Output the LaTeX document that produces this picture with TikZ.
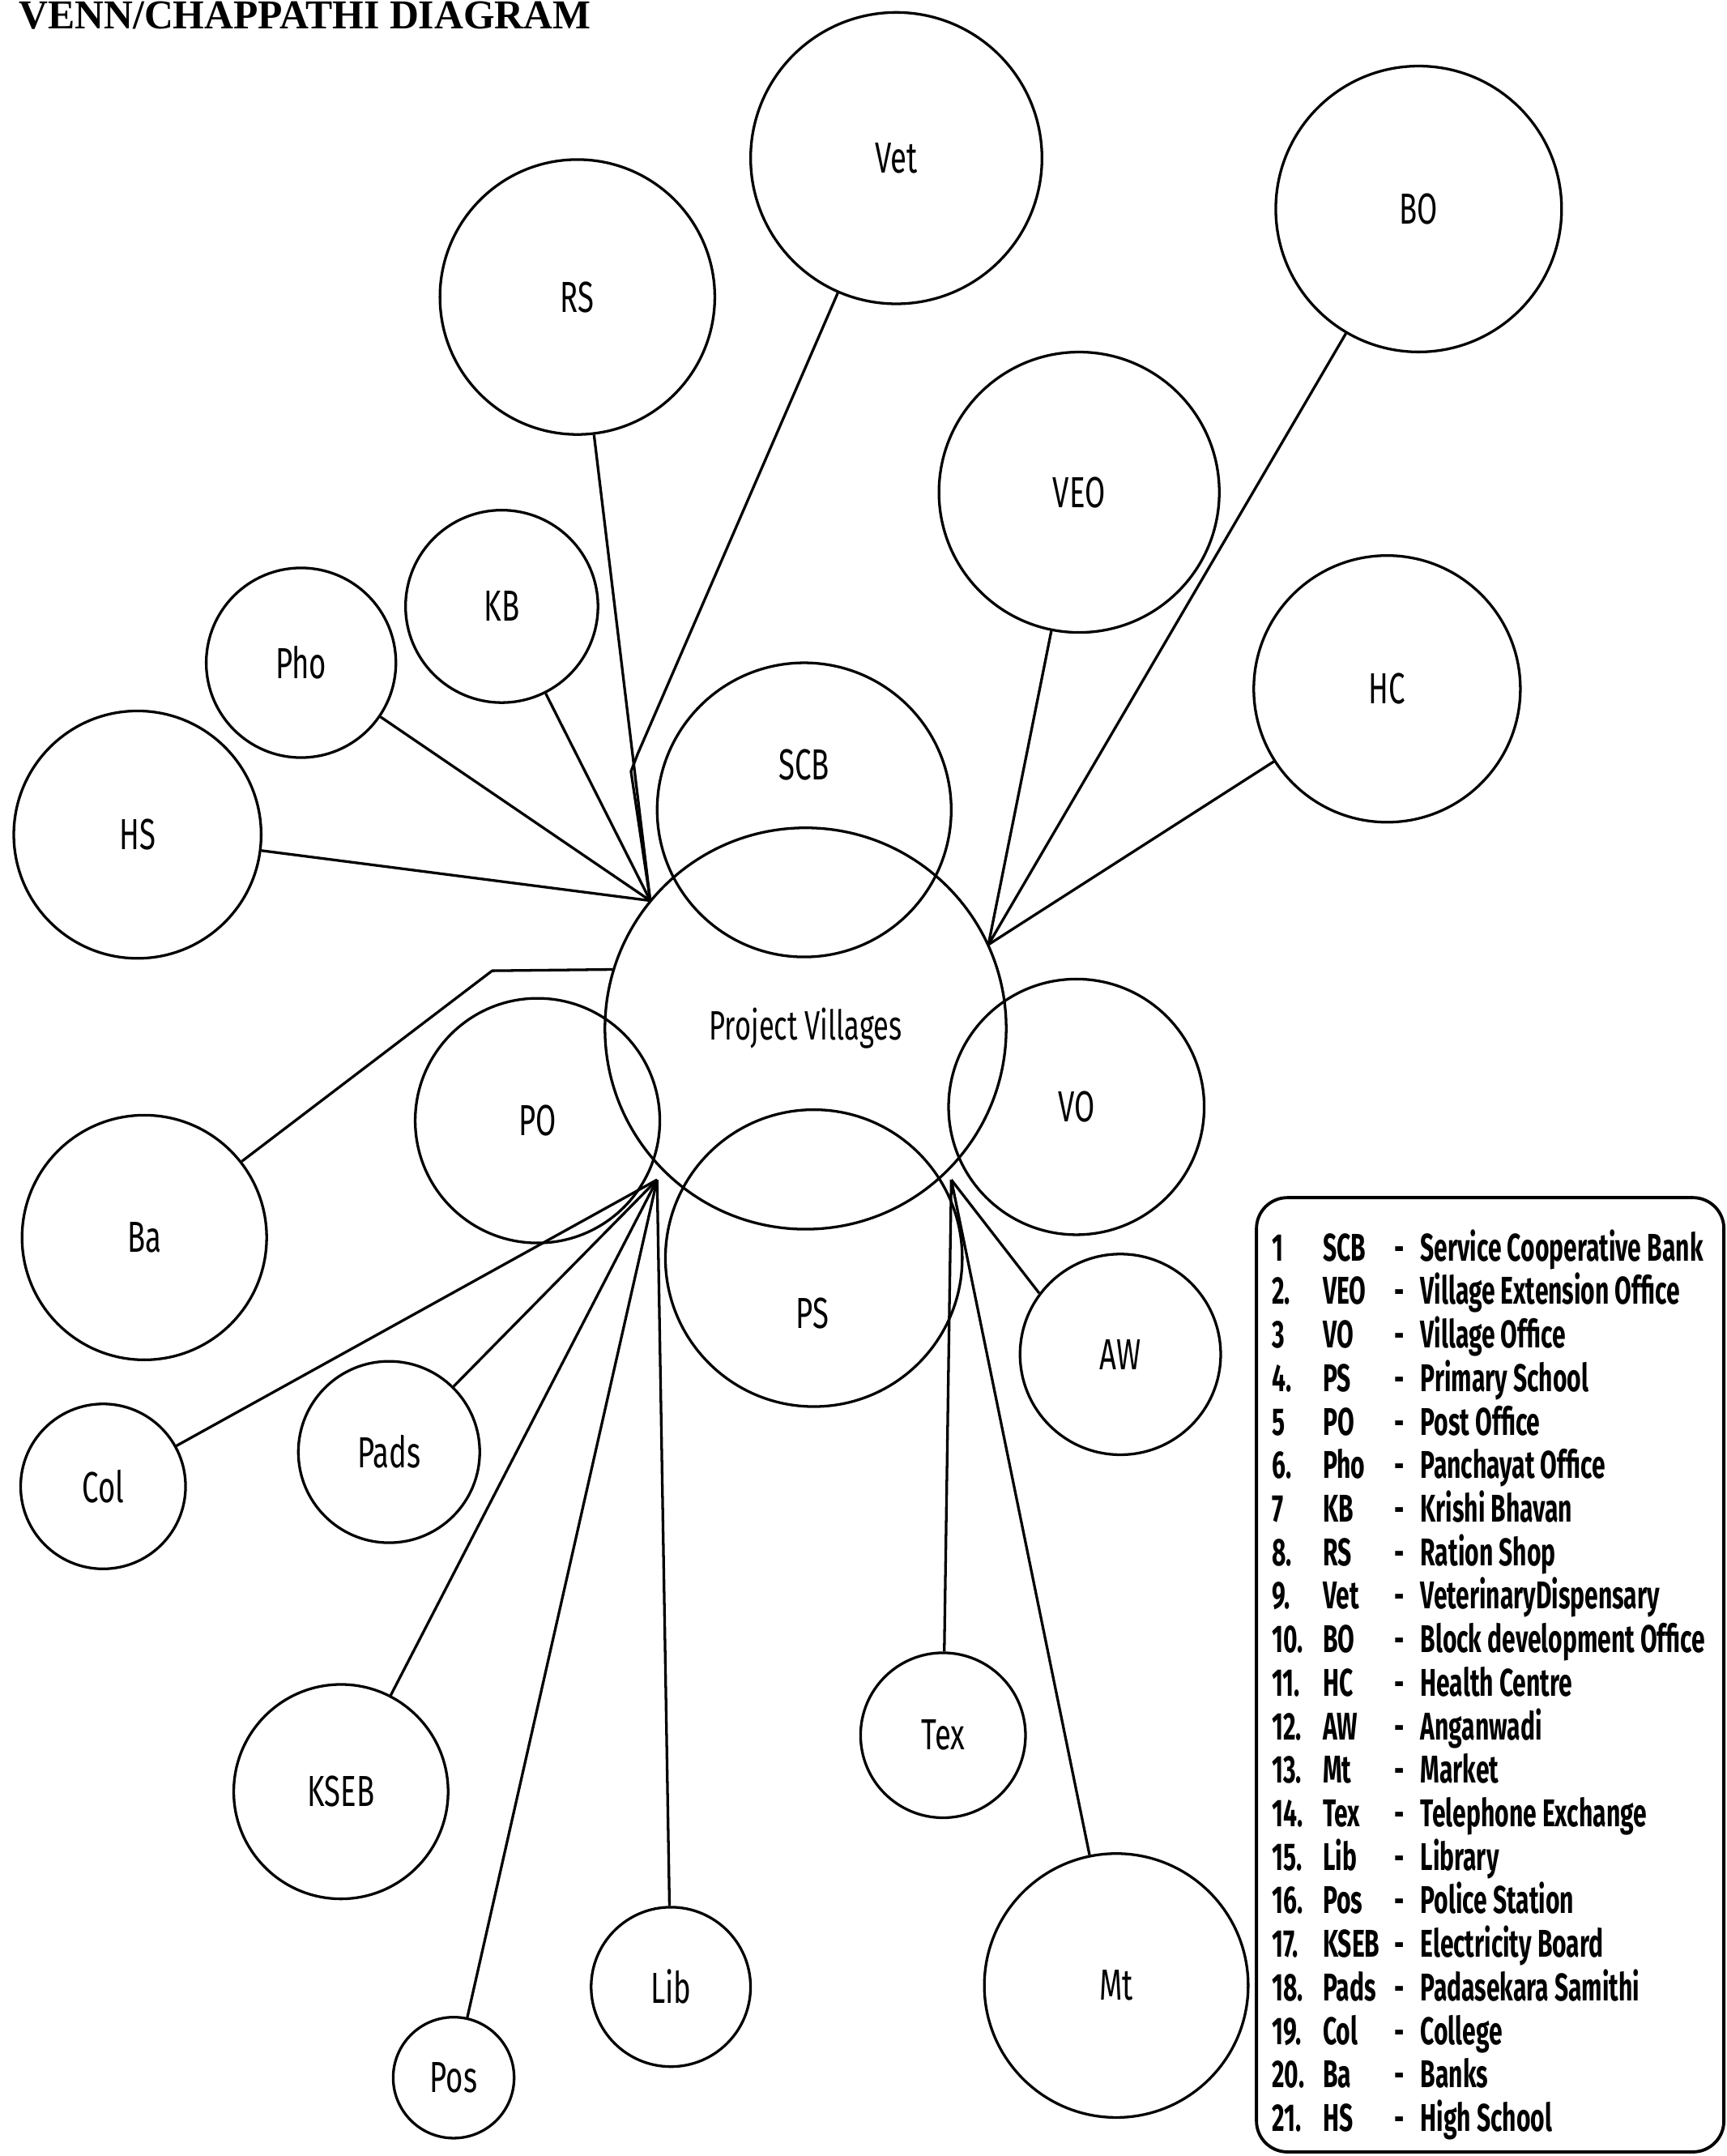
\documentclass[tikz,border=0pt]{standalone}
\usepackage{fontspec}
\newfontfamily\labfont[FakeStretch=0.68]{Fira Sans}
\newfontfamily\legfont[FakeStretch=0.63]{Fira Sans}
\newfontfamily\titfont[FakeStretch=0.98]{Liberation Serif}
\begin{document}
\begin{tikzpicture}[x=0.02cm,y=-0.02cm,
  circ/.style={circle, draw, line width=1.1pt, inner sep=0pt, minimum size=#1*0.04cm,
    font={\labfont\fontsize{18}{20}\selectfont}},
  lab/.style={inner sep=0pt, font={\labfont\fontsize{18}{20}\selectfont}},
  conn/.style={line width=1.1pt, line join=round},
  leg/.style={inner sep=0pt, anchor=base west, font={\legfont\bfseries\fontsize{16}{18}\selectfont}}]
\useasboundingbox (0,0) rectangle (1256,1568);
\fill[white] (0,0) rectangle (1256,1568);
% title
\node[inner sep=0pt, anchor=base west, font={\titfont\bfseries\fontsize{17}{20}\selectfont}] (title) at (13.5,21) {VENN/CHAPPATHI DIAGRAM};
% circles
\node[circ=106] (Vet) at (652,115) {Vet};
\node[circ=104] (BO) at (1032,152) {BO};
\node[circ=100] (RS) at (420,216) {RS};
\node[circ=102] (VEO) at (785,358) {VEO};
\node[circ=97] (HC) at (1009,501) {HC};
\node[circ=70] (KB) at (365,441) {KB};
\node[circ=69] (Pho) at (219,482) {Pho};
\node[circ=90] (HS) at (100,607) {HS};
\node[circ=107] (SCB) at (585,589) {};
\node[lab] (SCBt) at (585,556) {SCB};
\node[circ=146, font={\labfont\fontsize{17}{20}\selectfont}] (PV) at (586,748) {Project Villages};
\node[circ=89] (PO) at (391,815) {PO};
\node[circ=93] (VO) at (783,805) {VO};
\node[circ=108] (PS) at (592,915) {};
\node[lab] (PSt) at (591,955) {PS};
\node[circ=89] (Ba) at (105,900) {Ba};
\node[circ=73] (AW) at (815,985) {AW};
\node[circ=60] (Col) at (75,1081) {Col};
\node[circ=66] (Pads) at (283,1056) {Pads};
\node[circ=78] (KSEB) at (248,1303) {KSEB};
\node[circ=60] (Tex) at (686,1262) {Tex};
\node[circ=96] (Mt) at (812,1444) {Mt};
\node[circ=58] (Lib) at (488,1445) {Lib};
\node[circ=44] (Pos) at (330,1511) {Pos};
% meeting points
\coordinate (UL) at (473,655);
\coordinate (UR) at (719,687);
\coordinate (LL) at (478,858);
\coordinate (LR) at (692,858);
\coordinate (vk1) at (464,548);
\coordinate (vk2) at (459,561);
\coordinate (baK) at (358,706);
% connectors
\draw[conn] (HS) -- (UL);
\draw[conn] (Pho) -- (UL);
\draw[conn] (KB) -- (UL);
\draw[conn] (RS) -- (UL);
\draw[conn] (Vet) -- (vk1) -- (vk2) -- (UL);
\draw[conn] (VEO) -- (UR);
\draw[conn] (BO) -- (UR);
\draw[conn] (HC) -- (UR);
\draw[conn] (Ba.38) -- (baK) -- (PV.163);
\draw[conn] (Col) -- (LL);
\draw[conn] (Pads) -- (LL);
\draw[conn] (KSEB) -- (LL);
\draw[conn] (Pos) -- (LL);
\draw[conn] (Lib) -- (LL);
\draw[conn] (Tex) -- (LR);
\draw[conn] (Mt) -- (LR);
\draw[conn] (AW.143) -- (LR);
% legend
\draw[line width=1.3pt, rounded corners=0.45cm] (914,871) rectangle (1254,1565);
\foreach \n/\a/\d [count=\i] in {1/SCB/Service Cooperative Bank, 2./VEO/Village Extension Office, 3/VO/Village Office, 4./PS/Primary School, 5/PO/Post Office, 6./Pho/Panchayat Office, 7/KB/Krishi Bhavan, 8./RS/Ration Shop, 9./Vet/VeterinaryDispensary, 10./BO/Block development Office, 11./HC/Health Centre, 12./AW/Anganwadi, 13./Mt/Market, 14./Tex/Telephone Exchange, 15./Lib/Library, 16./Pos/Police Station, 17./KSEB/Electricity Board, 18./Pads/Padasekara Samithi, 19./Col/College, 20./Ba/Banks, 21./HS/High School}{
  \pgfmathsetmacro\yy{917+(\i-1)*31.65}
  \node[leg] (n\i) at (925,\yy) {\n};
  \node[leg] (a\i) at (962,\yy) {\a};
  \node[leg] (h\i) at (1014,\yy) {-};
  \node[leg] (d\i) at (1033,\yy) {\d};
}
\end{tikzpicture}
\end{document}
